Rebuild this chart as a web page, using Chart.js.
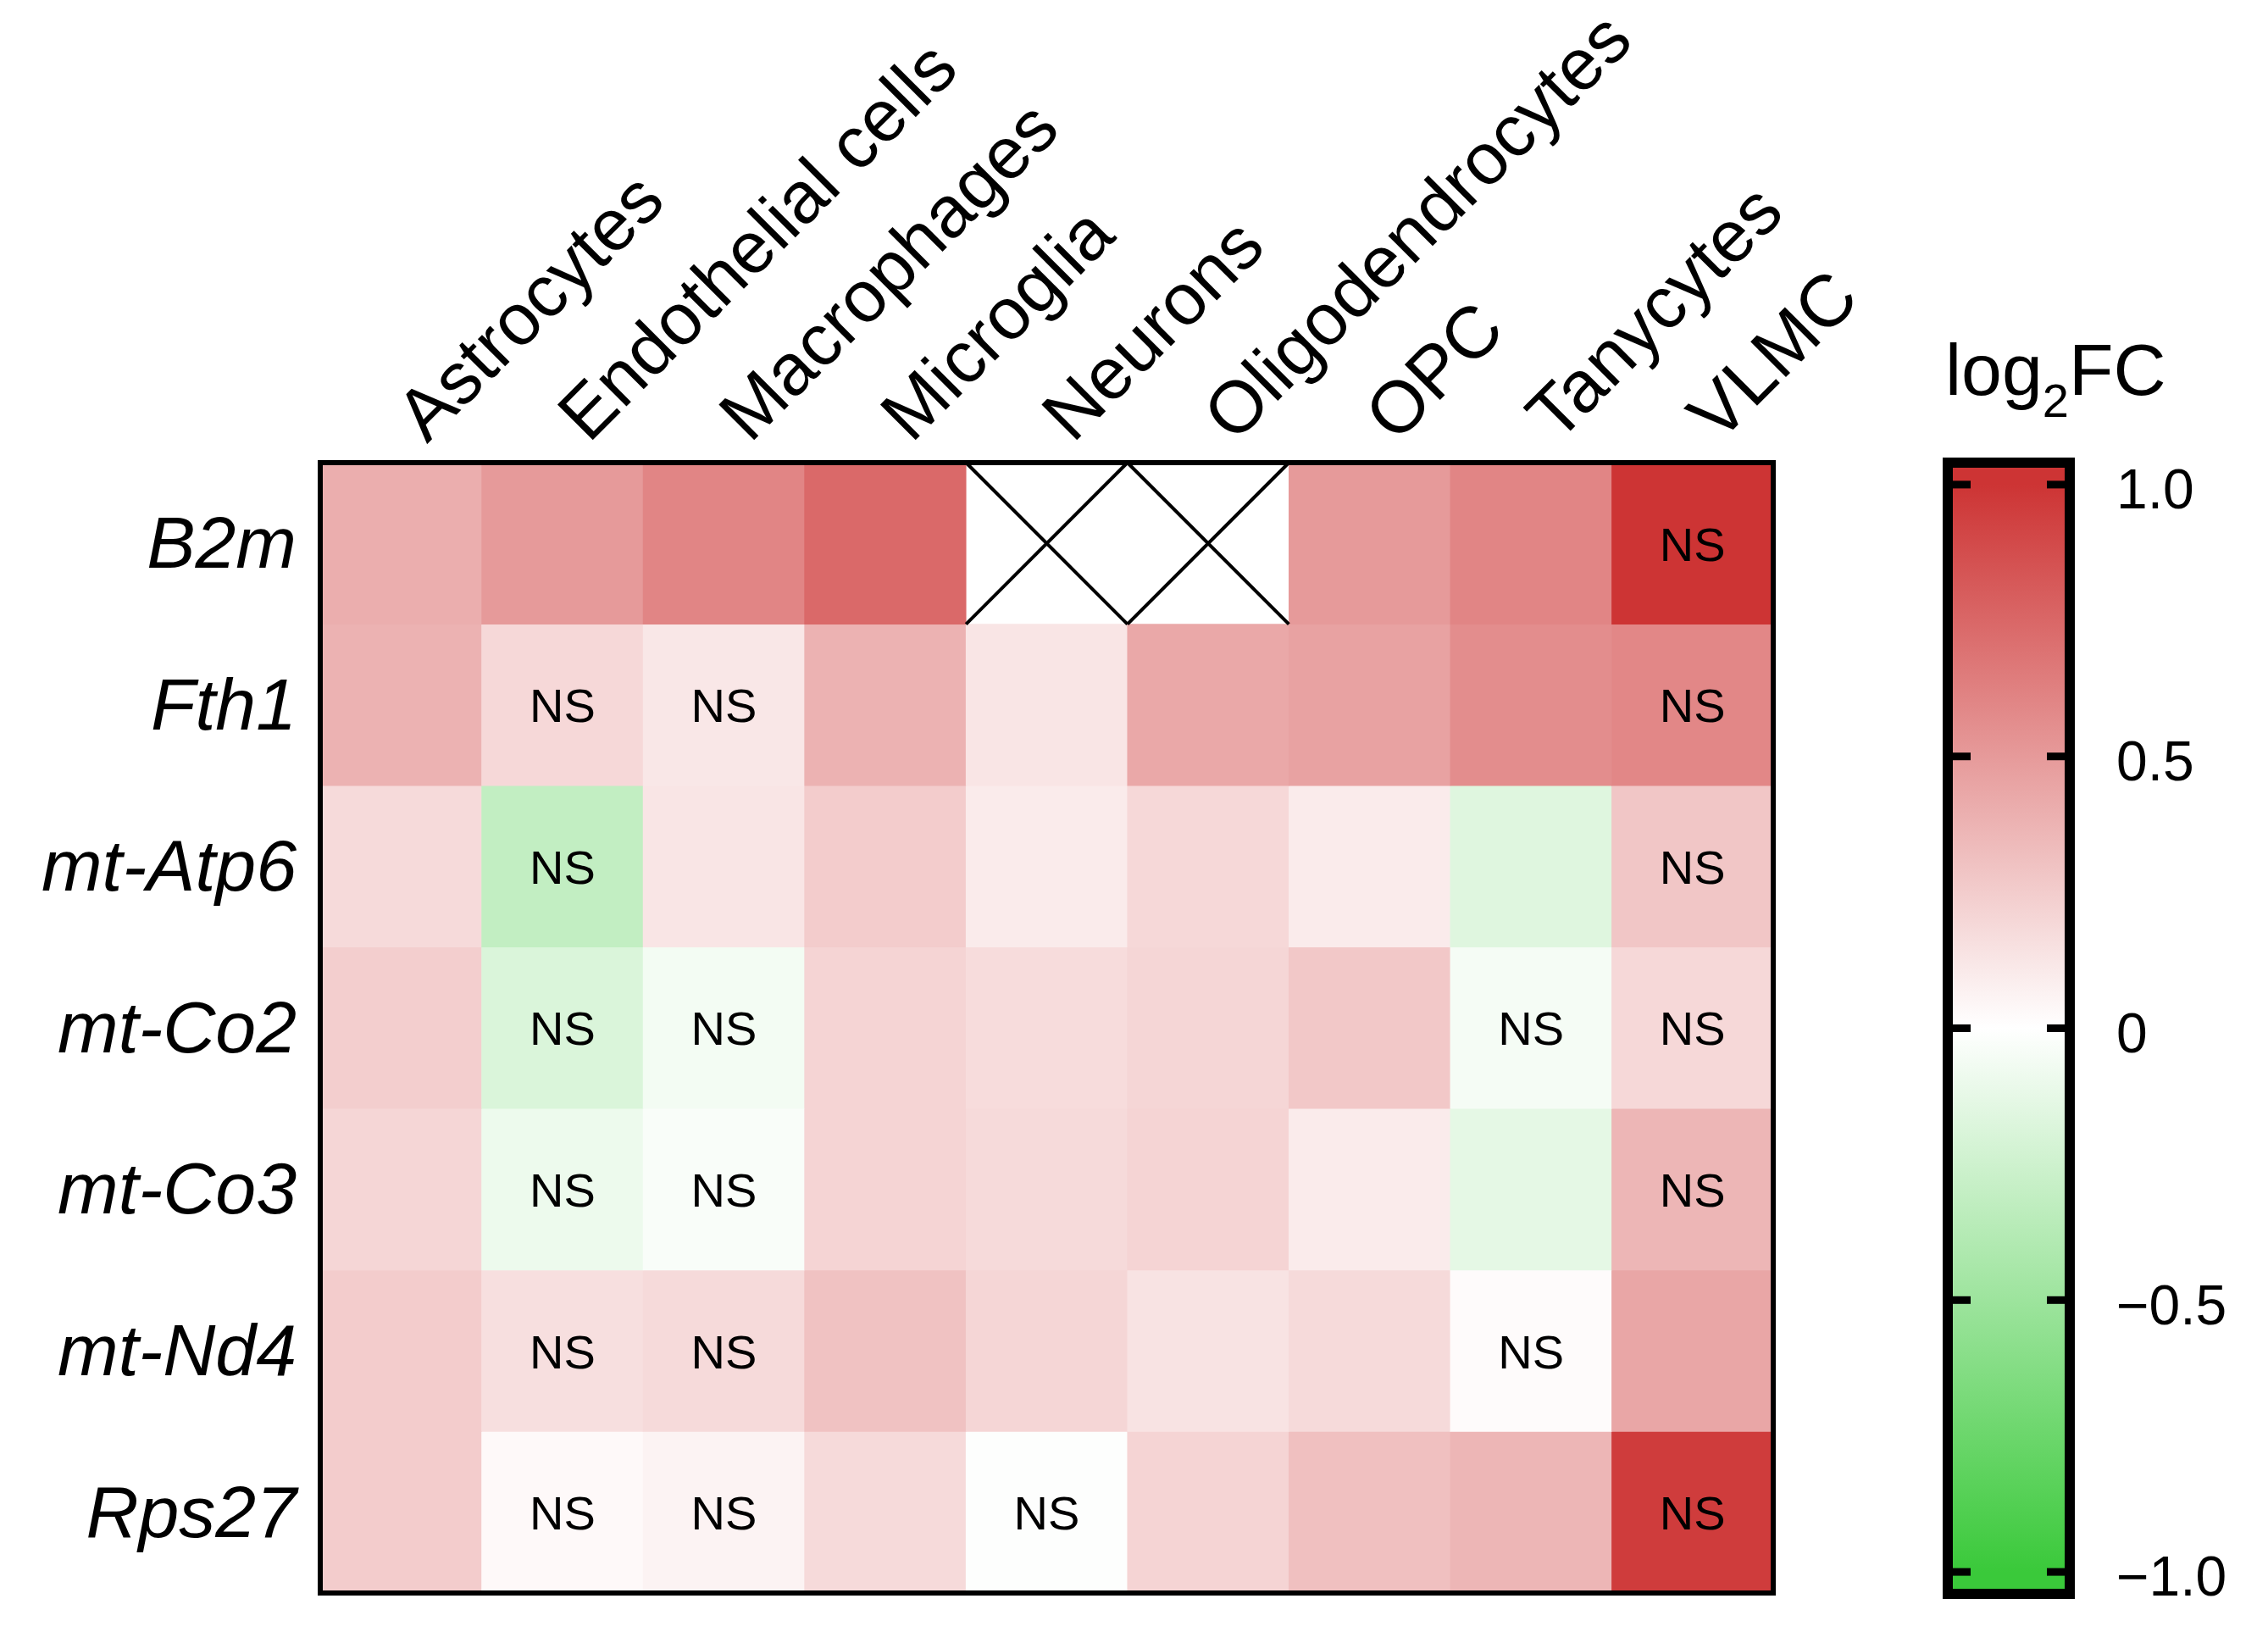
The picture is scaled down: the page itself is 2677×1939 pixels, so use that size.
<!DOCTYPE html>
<html><head><meta charset="utf-8">
<script src="https://cdn.jsdelivr.net/npm/chart.js@4.4.1/dist/chart.umd.min.js"></script>
<style>
html,body{margin:0;padding:0;background:#fff;overflow:hidden;}
#wrap{position:relative;width:2677px;height:1939px;background:#fff;}
canvas{position:absolute;top:0;}
#heat{left:0;}
#bar{left:2250px;}
</style></head><body>
<div id="wrap"><canvas id="heat" width="2677" height="1939"></canvas><canvas id="bar" width="427" height="1939"></canvas></div>
<script>
// ---- data ----
const cellTypes = ['Astrocytes','Endothelial cells','Macrophages','Microglia','Neurons','Oligodendrocytes','OPC','Tanycytes','VLMC'];
const genes = ['B2m','Fth1','mt-Atp6','mt-Co2','mt-Co3','mt-Nd4','Rps27'];

// log2FC per gene (null = not detected, drawn as a cross)
const B2m    = [0.40, 0.50, 0.60, 0.74, null, null, 0.50, 0.60, 1.00];
const Fth1   = [0.38, 0.19, 0.12, 0.38, 0.13, 0.43, 0.46, 0.56, 0.59];
const mtAtp6 = [0.18,-0.31, 0.13, 0.25, 0.10, 0.19, 0.10,-0.16, 0.28];
const mtCo2  = [0.24,-0.19,-0.06, 0.21, 0.17, 0.20, 0.27,-0.05, 0.19];
const mtCo3  = [0.20,-0.09,-0.03, 0.21, 0.18, 0.21, 0.10,-0.13, 0.36];
const mtNd4  = [0.25, 0.16, 0.18, 0.30, 0.20, 0.14, 0.18, 0.02, 0.44];
const Rps27  = [0.25, 0.03, 0.06, 0.18,-0.01, 0.21, 0.31, 0.36, 0.96];

// NS (not significant) flags
const nsB2m    = [0,0,0,0,0,0,0,0,1];
const nsFth1   = [0,1,1,0,0,0,0,0,1];
const nsMtAtp6 = [0,1,0,0,0,0,0,0,1];
const nsMtCo2  = [0,1,1,0,0,0,0,1,1];
const nsMtCo3  = [0,1,1,0,0,0,0,0,1];
const nsMtNd4  = [0,1,1,0,0,0,0,1,0];
const nsRps27  = [0,1,1,0,1,0,0,0,1];

const colorbarTicks = [-1, -0.5, 0, 0.5, 1];
const colorbarTickLabels = ['\u22121.0', '\u22120.5', '0', '0.5', '1.0'];

const rows = [B2m, Fth1, mtAtp6, mtCo2, mtCo3, mtNd4, Rps27];
const nsRows = [nsB2m, nsFth1, nsMtAtp6, nsMtCo2, nsMtCo3, nsMtNd4, nsRps27];

// ---- style ----
const FONT = "'Liberation Sans', Arial, Helvetica, sans-serif";
const RED = [205, 52, 52], GREEN = [58, 201, 58];
function colorFor(v) {
  if (v === null) return 'rgba(0,0,0,0)';
  const t = Math.max(-1, Math.min(1, v));
  const end = t >= 0 ? RED : GREEN;
  const a = Math.abs(t);
  const c = end.map(e => Math.round(255 + (e - 255) * a));
  return 'rgb(' + c.join(',') + ')';
}

const cellPlugin = {
  id: 'cells',
  afterDatasetsDraw(chart) {
    const {ctx, chartArea: a, scales: {x, y}} = chart;
    const cw = x.getPixelForValue(1) - x.getPixelForValue(0);
    ctx.save();
    rows.forEach((vals, r) => {
      vals.forEach((v, c) => {
        const cx = x.getPixelForValue(c);
        const x0 = cx - cw / 2, x1 = cx + cw / 2;
        const y0 = y.getPixelForValue(r), y1 = y.getPixelForValue(r + 1);
        const cy = (y0 + y1) / 2;
        if (v === null) {
          ctx.strokeStyle = '#000';
          ctx.lineWidth = 4;
          ctx.beginPath();
          ctx.moveTo(x0, y0); ctx.lineTo(x1, y1);
          ctx.moveTo(x1, y0); ctx.lineTo(x0, y1);
          ctx.stroke();
        }
        if (nsRows[r][c]) {
          ctx.fillStyle = '#000';
          ctx.font = '56px ' + FONT;
          ctx.textAlign = 'center';
          ctx.textBaseline = 'middle';
          ctx.fillText('NS', cx, cy + 5);
        }
      });
    });
    ctx.strokeStyle = '#000';
    ctx.lineWidth = 6;
    ctx.strokeRect(a.left, a.top, a.right - a.left, a.bottom - a.top);
    ctx.restore();
  }
};

new Chart(document.getElementById('heat'), {
  type: 'bar',
  data: {
    labels: cellTypes,
    datasets: rows.map((vals, r) => ({
      label: genes[r],
      data: vals.map(v => v === null ? null : [r, r + 1]),
      backgroundColor: vals.map(colorFor),
      borderWidth: 0,
      barPercentage: 1,
      categoryPercentage: 1,
      grouped: false
    }))
  },
  options: {
    responsive: false, animation: false, events: [],
    layout: {padding: {left: 0, top: 0, right: 2677 - 2093, bottom: 1939 - 1880}},
    plugins: {legend: {display: false}, tooltip: {enabled: false}, title: {display: false}},
    scales: {
      x: {
        type: 'category', position: 'top', offset: true,
        grid: {display: false, drawTicks: false}, border: {display: false},
        ticks: {autoSkip: false, minRotation: 45, maxRotation: 45, padding: 2, labelOffset: 87,
                color: '#000', font: {family: FONT, size: 86}},
        afterFit(s) { s.height = 546; s.paddingLeft = 0; s.paddingRight = 0; }
      },
      y: {
        type: 'linear', min: 0, max: 7, reverse: true,
        grid: {display: false, drawTicks: false}, border: {display: false},
        afterBuildTicks(s) { s.ticks = genes.map((g, i) => ({value: i + 0.5})); },
        ticks: {padding: 28, labelOffset: 5, color: '#000', font: {family: FONT, size: 86, style: 'italic'},
                callback: (v, i) => genes[i]},
        afterFit(s) { s.width = 378; s.paddingTop = 0; s.paddingBottom = 0; }
      }
    }
  },
  plugins: [cellPlugin]
});

// ---- colour bar ----
const CB_LIM = 1.031;
const cbPlugin = {
  id: 'cbar',
  beforeDatasetsDraw(chart) {
    const y = chart.scales.y;
    const p0 = y.getPixelForValue(CB_LIM), p1 = y.getPixelForValue(-CB_LIM);
    if (!isFinite(p0) || !isFinite(p1)) return;
    const g = chart.ctx.createLinearGradient(0, p0, 0, p1);
    [CB_LIM, 1, 0.5, 0, -0.5, -1, -CB_LIM].forEach(v => {
      g.addColorStop((CB_LIM - v) / (2 * CB_LIM), colorFor(v));
    });
    const el = chart.getDatasetMeta(0).data[0];
    if (el && el.options) el.options.backgroundColor = g;
  },
  afterDatasetsDraw(chart) {
    const {ctx, chartArea: a, scales: {y}} = chart;
    ctx.save();
    ctx.fillStyle = '#000';
    colorbarTicks.forEach(v => {
      const py = y.getPixelForValue(v);
      ctx.fillRect(a.left, py - 4.5, 21, 9);
      ctx.fillRect(a.right - 21, py - 4.5, 21, 9);
    });
    ctx.strokeStyle = '#000';
    ctx.lineWidth = 12;
    ctx.strokeRect(a.left - 6, a.top - 6, a.right - a.left + 12, a.bottom - a.top + 12);
    // title log2FC
    ctx.textAlign = 'left';
    ctx.textBaseline = 'alphabetic';
    let tx = 46;
    ctx.font = '86px ' + FONT;
    ctx.fillText('log', tx, 466);
    tx += ctx.measureText('log').width;
    ctx.font = '56px ' + FONT;
    ctx.fillText('2', tx, 492);
    tx += ctx.measureText('2').width;
    ctx.font = '86px ' + FONT;
    ctx.fillText('FC', tx, 466);
    ctx.restore();
  }
};

new Chart(document.getElementById('bar'), {
  type: 'bar',
  data: {
    labels: ['log2FC'],
    datasets: [{
      data: [[-CB_LIM, CB_LIM]],
      backgroundColor: colorFor(0),
      borderWidth: 0, barPercentage: 1, categoryPercentage: 1
    }]
  },
  options: {
    responsive: false, animation: false, events: [],
    layout: {padding: {left: 55, top: 552, right: 0, bottom: 64}},
    plugins: {legend: {display: false}, tooltip: {enabled: false}},
    scales: {
      x: {display: false},
      y: {
        position: 'right', min: -CB_LIM, max: CB_LIM,
        grid: {display: false, drawTicks: false}, border: {display: false},
        afterBuildTicks(s) { s.ticks = colorbarTicks.map(v => ({value: v})); },
        ticks: {padding: 61, labelOffset: 10, color: '#000', font: {family: FONT, size: 66},
                callback: (v) => colorbarTickLabels[colorbarTicks.indexOf(v)]},
        afterFit(s) { s.width = 240; s.paddingTop = 0; s.paddingBottom = 0; }
      }
    }
  },
  plugins: [cbPlugin]
});
</script>
</body></html>
